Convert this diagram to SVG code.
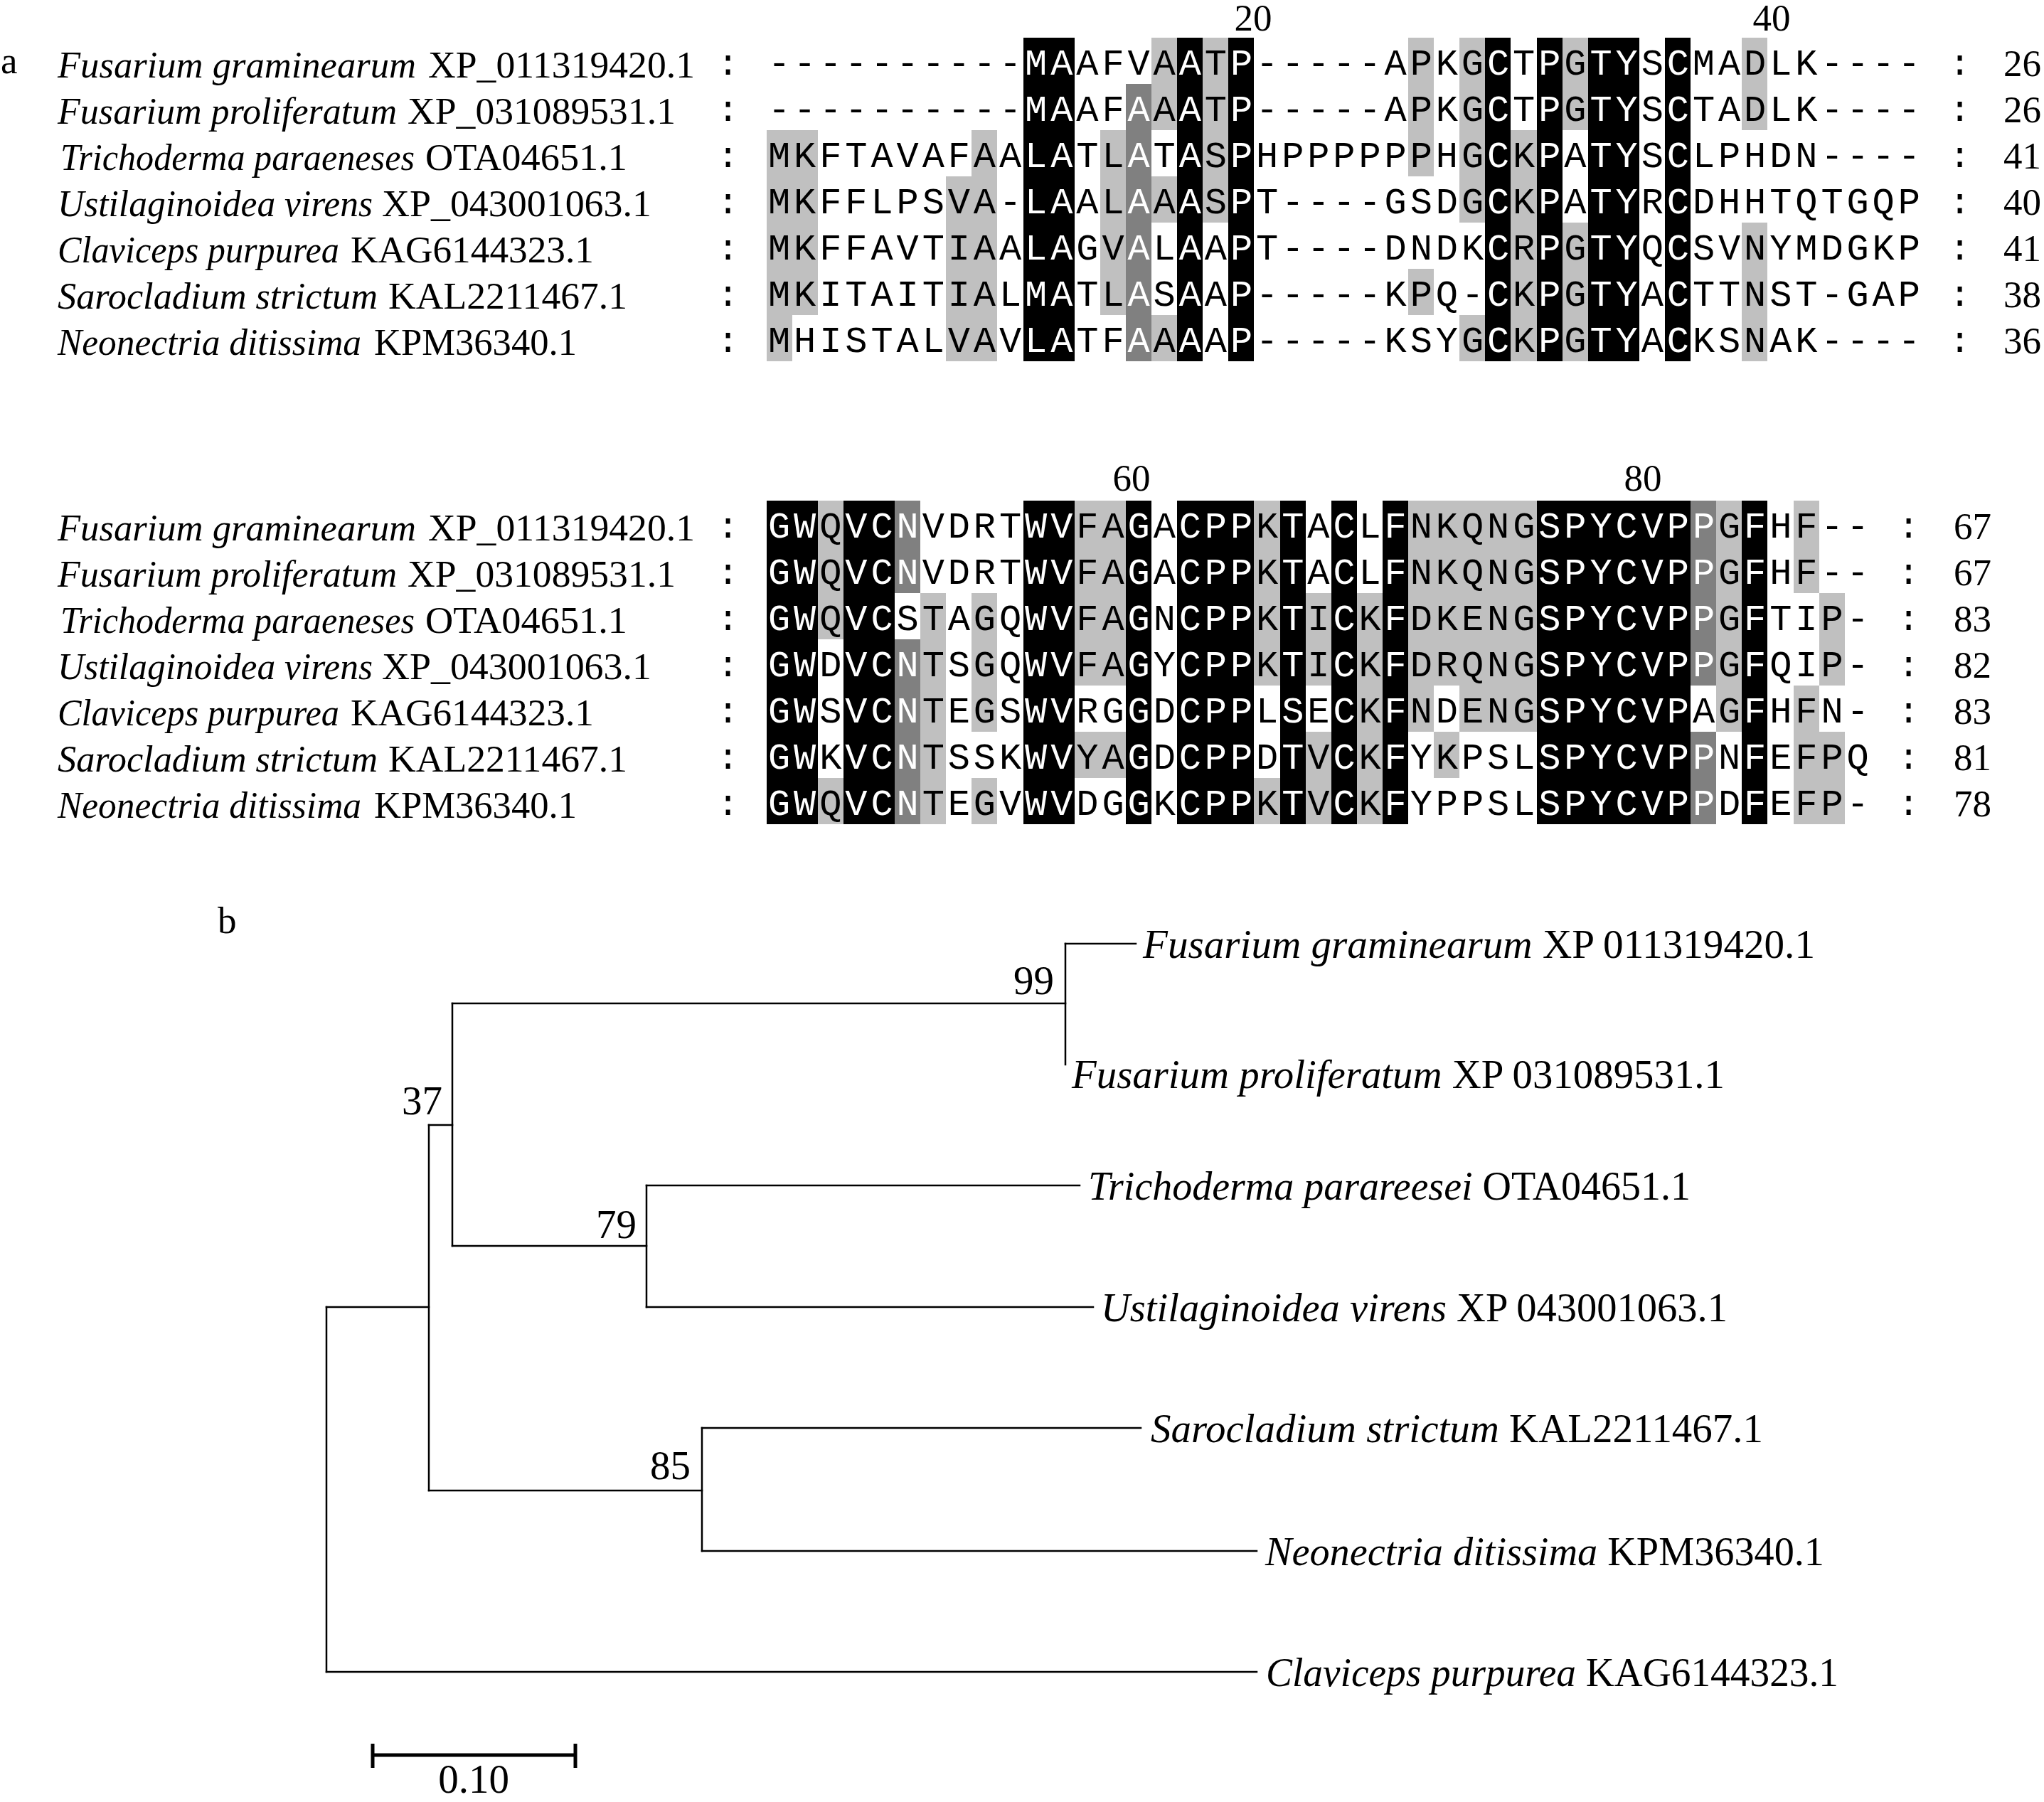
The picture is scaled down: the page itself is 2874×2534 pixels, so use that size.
<svg xmlns="http://www.w3.org/2000/svg" width="2874" height="2534" viewBox="0 0 2874 2534">
<style>
.seq{font-family:"Liberation Mono","DejaVu Sans Mono",monospace;font-size:52px;letter-spacing:4.9px;fill:#000}
.w{fill:#fff}
.lg{fill:#c0c0c0}
.dg{fill:#808080}
.bk{fill:#000}
.nm{font-family:"Liberation Serif","Times New Roman",serif;font-size:53px;fill:#000}
.it{font-style:italic}
.tl{font-family:"Liberation Serif","Times New Roman",serif;font-size:57px;fill:#000}
.br{stroke:#000;stroke-width:2.5;fill:none;stroke-linecap:square}
rect{shape-rendering:crispEdges}
</style>
<rect x="0" y="0" width="2874" height="2534" fill="#fff"/>

<!-- Panel a -->
<text class="nm" x="1" y="103">a</text>

<g id="block1-shading">
<g class="bk">
<rect x="1438.5" y="53" width="72.2" height="455"/>
<rect x="1655.1" y="53" width="36.1" height="455"/>
<rect x="1727.3" y="53" width="36.1" height="455"/>
<rect x="2088.3" y="53" width="36.1" height="455"/>
<rect x="2160.5" y="53" width="36.1" height="455"/>
<rect x="2232.7" y="53" width="72.2" height="455"/>
<rect x="2341.0" y="53" width="36.1" height="455"/>
</g>
<g class="dg">
<rect x="1582.9" y="118" width="36.1" height="390"/>
</g>
<g class="lg">
<rect x="1077.5" y="183" width="36.1" height="325"/>
<rect x="1113.6" y="183" width="36.1" height="260"/>
<rect x="1330.2" y="248" width="36.1" height="260"/>
<rect x="1366.3" y="183" width="36.1" height="325"/>
<rect x="1546.8" y="183" width="36.1" height="260"/>
<rect x="1619.0" y="53" width="36.1" height="130"/>
<rect x="1619.0" y="248" width="36.1" height="65"/>
<rect x="1619.0" y="443" width="36.1" height="65"/>
<rect x="1691.2" y="53" width="36.1" height="260"/>
<rect x="1980.0" y="53" width="36.1" height="195"/>
<rect x="1980.0" y="378" width="36.1" height="65"/>
<rect x="2052.2" y="53" width="36.1" height="260"/>
<rect x="2052.2" y="443" width="36.1" height="65"/>
<rect x="2124.4" y="183" width="36.1" height="325"/>
<rect x="2196.6" y="53" width="36.1" height="130"/>
<rect x="2196.6" y="313" width="36.1" height="195"/>
<rect x="2449.3" y="53" width="36.1" height="130"/>
<rect x="2449.3" y="313" width="36.1" height="195"/>
</g>
</g>

<g id="block2-shading">
<g class="bk">
<rect x="1077.5" y="704" width="72.2" height="455"/>
<rect x="1185.8" y="704" width="72.2" height="455"/>
<rect x="1438.5" y="704" width="72.2" height="455"/>
<rect x="1582.9" y="704" width="36.1" height="455"/>
<rect x="1655.1" y="704" width="108.3" height="455"/>
<rect x="1799.5" y="704" width="36.1" height="455"/>
<rect x="1871.7" y="704" width="36.1" height="455"/>
<rect x="1943.9" y="704" width="36.1" height="455"/>
<rect x="2160.5" y="704" width="216.6" height="455"/>
<rect x="2449.3" y="704" width="36.1" height="455"/>
</g>
<g class="dg">
<rect x="1258.0" y="704" width="36.1" height="130"/>
<rect x="1258.0" y="899" width="36.1" height="260"/>
<rect x="2377.1" y="704" width="36.1" height="260"/>
<rect x="2377.1" y="1029" width="36.1" height="130"/>
</g>
<g class="lg">
<rect x="1149.7" y="704" width="36.1" height="195"/>
<rect x="1149.7" y="1094" width="36.1" height="65"/>
<rect x="1294.1" y="834" width="36.1" height="325"/>
<rect x="1366.3" y="834" width="36.1" height="195"/>
<rect x="1366.3" y="1094" width="36.1" height="65"/>
<rect x="1510.7" y="704" width="72.2" height="260"/>
<rect x="1510.7" y="1029" width="72.2" height="65"/>
<rect x="1763.4" y="704" width="36.1" height="260"/>
<rect x="1763.4" y="1094" width="36.1" height="65"/>
<rect x="1835.6" y="834" width="36.1" height="130"/>
<rect x="1835.6" y="1029" width="36.1" height="130"/>
<rect x="1907.8" y="834" width="36.1" height="325"/>
<rect x="1980.0" y="704" width="36.1" height="325"/>
<rect x="2016.1" y="704" width="36.1" height="260"/>
<rect x="2016.1" y="1029" width="36.1" height="65"/>
<rect x="2052.2" y="704" width="108.3" height="325"/>
<rect x="2413.2" y="704" width="36.1" height="325"/>
<rect x="2521.5" y="704" width="36.1" height="130"/>
<rect x="2521.5" y="964" width="36.1" height="195"/>
<rect x="2557.6" y="834" width="36.1" height="130"/>
<rect x="2557.6" y="1029" width="36.1" height="130"/>
</g>
</g>

<g id="block1-positions">
<text class="nm" x="1762" y="43" text-anchor="middle" font-size="48">20</text>
<text class="nm" x="2491" y="43" text-anchor="middle" font-size="48">40</text>
</g>
<g id="block2-positions">
<text class="nm" x="1591" y="690" text-anchor="middle" font-size="52">60</text>
<text class="nm" x="2310" y="690" text-anchor="middle" font-size="52">80</text>
</g>

<g id="block1-names">
<text class="nm it" x="81" y="109" textLength="504" lengthAdjust="spacingAndGlyphs">Fusarium graminearum</text><text class="nm" x="602" y="109" textLength="375" lengthAdjust="spacingAndGlyphs">XP_011319420.1</text>
<text class="nm it" x="81" y="174" textLength="477" lengthAdjust="spacingAndGlyphs">Fusarium proliferatum</text><text class="nm" x="573" y="174" textLength="377" lengthAdjust="spacingAndGlyphs">XP_031089531.1</text>
<text class="nm it" x="85" y="239" textLength="498" lengthAdjust="spacingAndGlyphs">Trichoderma paraeneses</text><text class="nm" x="598" y="239" textLength="284" lengthAdjust="spacingAndGlyphs">OTA04651.1</text>
<text class="nm it" x="81" y="304" textLength="443" lengthAdjust="spacingAndGlyphs">Ustilaginoidea virens</text><text class="nm" x="537" y="304" textLength="379" lengthAdjust="spacingAndGlyphs">XP_043001063.1</text>
<text class="nm it" x="81" y="369" textLength="396" lengthAdjust="spacingAndGlyphs">Claviceps purpurea</text><text class="nm" x="493" y="369" textLength="342" lengthAdjust="spacingAndGlyphs">KAG6144323.1</text>
<text class="nm it" x="81" y="434" textLength="450" lengthAdjust="spacingAndGlyphs">Sarocladium strictum</text><text class="nm" x="546" y="434" textLength="336" lengthAdjust="spacingAndGlyphs">KAL2211467.1</text>
<text class="nm it" x="81" y="499" textLength="427" lengthAdjust="spacingAndGlyphs">Neonectria ditissima</text><text class="nm" x="526" y="499" textLength="285" lengthAdjust="spacingAndGlyphs">KPM36340.1</text>
</g>

<g id="block1-seqs">
<text class="seq" x="1008" y="105">:</text><text class="seq" x="1008" y="170">:</text><text class="seq" x="1008" y="235">:</text><text class="seq" x="1008" y="300">:</text><text class="seq" x="1008" y="365">:</text><text class="seq" x="1008" y="430">:</text><text class="seq" x="1008" y="495">:</text>
<text class="seq" x="1080" y="105">----------<tspan class="w">MA</tspan>AFVA<tspan class="w">A</tspan>T<tspan class="w">P</tspan>-----APKG<tspan class="w">C</tspan>T<tspan class="w">P</tspan>G<tspan class="w">TY</tspan>S<tspan class="w">C</tspan>MADLK----</text>
<text class="seq" x="1080" y="170">----------<tspan class="w">MA</tspan>AF<tspan class="w">A</tspan>A<tspan class="w">A</tspan>T<tspan class="w">P</tspan>-----APKG<tspan class="w">C</tspan>T<tspan class="w">P</tspan>G<tspan class="w">TY</tspan>S<tspan class="w">C</tspan>TADLK----</text>
<text class="seq" x="1080" y="235">MKFTAVAFAA<tspan class="w">LA</tspan>TL<tspan class="w">A</tspan>T<tspan class="w">A</tspan>S<tspan class="w">P</tspan>HPPPPPPHG<tspan class="w">C</tspan>K<tspan class="w">P</tspan>A<tspan class="w">TY</tspan>S<tspan class="w">C</tspan>LPHDN----</text>
<text class="seq" x="1080" y="300">MKFFLPSVA-<tspan class="w">LA</tspan>AL<tspan class="w">A</tspan>A<tspan class="w">A</tspan>S<tspan class="w">P</tspan>T----GSDG<tspan class="w">C</tspan>K<tspan class="w">P</tspan>A<tspan class="w">TY</tspan>R<tspan class="w">C</tspan>DHHTQTGQP</text>
<text class="seq" x="1080" y="365">MKFFAVTIAA<tspan class="w">LA</tspan>GV<tspan class="w">A</tspan>L<tspan class="w">A</tspan>A<tspan class="w">P</tspan>T----DNDK<tspan class="w">C</tspan>R<tspan class="w">P</tspan>G<tspan class="w">TY</tspan>Q<tspan class="w">C</tspan>SVNYMDGKP</text>
<text class="seq" x="1080" y="430">MKITAITIAL<tspan class="w">MA</tspan>TL<tspan class="w">A</tspan>S<tspan class="w">A</tspan>A<tspan class="w">P</tspan>-----KPQ-<tspan class="w">C</tspan>K<tspan class="w">P</tspan>G<tspan class="w">TY</tspan>A<tspan class="w">C</tspan>TTNST-GAP</text>
<text class="seq" x="1080" y="495">MHISTALVAV<tspan class="w">LA</tspan>TF<tspan class="w">A</tspan>A<tspan class="w">A</tspan>A<tspan class="w">P</tspan>-----KSYG<tspan class="w">C</tspan>K<tspan class="w">P</tspan>G<tspan class="w">TY</tspan>A<tspan class="w">C</tspan>KSNAK----</text>
<text class="seq" x="2740" y="105">:</text><text class="seq" x="2740" y="170">:</text><text class="seq" x="2740" y="235">:</text><text class="seq" x="2740" y="300">:</text><text class="seq" x="2740" y="365">:</text><text class="seq" x="2740" y="430">:</text><text class="seq" x="2740" y="495">:</text>
<text class="nm" x="2817" y="107">26</text>
<text class="nm" x="2817" y="172">26</text>
<text class="nm" x="2817" y="237">41</text>
<text class="nm" x="2817" y="302">40</text>
<text class="nm" x="2817" y="367">41</text>
<text class="nm" x="2817" y="432">38</text>
<text class="nm" x="2817" y="497">36</text>
</g>

<g id="block2-names">
<text class="nm it" x="81" y="760" textLength="504" lengthAdjust="spacingAndGlyphs">Fusarium graminearum</text><text class="nm" x="602" y="760" textLength="375" lengthAdjust="spacingAndGlyphs">XP_011319420.1</text>
<text class="nm it" x="81" y="825" textLength="477" lengthAdjust="spacingAndGlyphs">Fusarium proliferatum</text><text class="nm" x="573" y="825" textLength="377" lengthAdjust="spacingAndGlyphs">XP_031089531.1</text>
<text class="nm it" x="85" y="890" textLength="498" lengthAdjust="spacingAndGlyphs">Trichoderma paraeneses</text><text class="nm" x="598" y="890" textLength="284" lengthAdjust="spacingAndGlyphs">OTA04651.1</text>
<text class="nm it" x="81" y="955" textLength="443" lengthAdjust="spacingAndGlyphs">Ustilaginoidea virens</text><text class="nm" x="537" y="955" textLength="379" lengthAdjust="spacingAndGlyphs">XP_043001063.1</text>
<text class="nm it" x="81" y="1020" textLength="396" lengthAdjust="spacingAndGlyphs">Claviceps purpurea</text><text class="nm" x="493" y="1020" textLength="342" lengthAdjust="spacingAndGlyphs">KAG6144323.1</text>
<text class="nm it" x="81" y="1085" textLength="450" lengthAdjust="spacingAndGlyphs">Sarocladium strictum</text><text class="nm" x="546" y="1085" textLength="336" lengthAdjust="spacingAndGlyphs">KAL2211467.1</text>
<text class="nm it" x="81" y="1150" textLength="427" lengthAdjust="spacingAndGlyphs">Neonectria ditissima</text><text class="nm" x="526" y="1150" textLength="285" lengthAdjust="spacingAndGlyphs">KPM36340.1</text>
</g>

<g id="block2-seqs">
<text class="seq" x="1008" y="756">:</text><text class="seq" x="1008" y="821">:</text><text class="seq" x="1008" y="886">:</text><text class="seq" x="1008" y="951">:</text><text class="seq" x="1008" y="1016">:</text><text class="seq" x="1008" y="1081">:</text><text class="seq" x="1008" y="1146">:</text>
<text class="seq" x="1080" y="756"><tspan class="w">GW</tspan>Q<tspan class="w">VCN</tspan>VDRT<tspan class="w">WV</tspan>FA<tspan class="w">G</tspan>A<tspan class="w">CPP</tspan>K<tspan class="w">T</tspan>A<tspan class="w">C</tspan>L<tspan class="w">F</tspan>NKQNG<tspan class="w">SPYCVPP</tspan>G<tspan class="w">F</tspan>HF--</text>
<text class="seq" x="1080" y="821"><tspan class="w">GW</tspan>Q<tspan class="w">VCN</tspan>VDRT<tspan class="w">WV</tspan>FA<tspan class="w">G</tspan>A<tspan class="w">CPP</tspan>K<tspan class="w">T</tspan>A<tspan class="w">C</tspan>L<tspan class="w">F</tspan>NKQNG<tspan class="w">SPYCVPP</tspan>G<tspan class="w">F</tspan>HF--</text>
<text class="seq" x="1080" y="886"><tspan class="w">GW</tspan>Q<tspan class="w">VC</tspan>STAGQ<tspan class="w">WV</tspan>FA<tspan class="w">G</tspan>N<tspan class="w">CPP</tspan>K<tspan class="w">T</tspan>I<tspan class="w">C</tspan>K<tspan class="w">F</tspan>DKENG<tspan class="w">SPYCVPP</tspan>G<tspan class="w">F</tspan>TIP-</text>
<text class="seq" x="1080" y="951"><tspan class="w">GW</tspan>D<tspan class="w">VCN</tspan>TSGQ<tspan class="w">WV</tspan>FA<tspan class="w">G</tspan>Y<tspan class="w">CPP</tspan>K<tspan class="w">T</tspan>I<tspan class="w">C</tspan>K<tspan class="w">F</tspan>DRQNG<tspan class="w">SPYCVPP</tspan>G<tspan class="w">F</tspan>QIP-</text>
<text class="seq" x="1080" y="1016"><tspan class="w">GW</tspan>S<tspan class="w">VCN</tspan>TEGS<tspan class="w">WV</tspan>RG<tspan class="w">G</tspan>D<tspan class="w">CPP</tspan>L<tspan class="w">S</tspan>E<tspan class="w">C</tspan>K<tspan class="w">F</tspan>NDENG<tspan class="w">SPYCVP</tspan>AG<tspan class="w">F</tspan>HFN-</text>
<text class="seq" x="1080" y="1081"><tspan class="w">GW</tspan>K<tspan class="w">VCN</tspan>TSSK<tspan class="w">WV</tspan>YA<tspan class="w">G</tspan>D<tspan class="w">CPP</tspan>D<tspan class="w">T</tspan>V<tspan class="w">C</tspan>K<tspan class="w">F</tspan>YKPSL<tspan class="w">SPYCVPP</tspan>N<tspan class="w">F</tspan>EFPQ</text>
<text class="seq" x="1080" y="1146"><tspan class="w">GW</tspan>Q<tspan class="w">VCN</tspan>TEGV<tspan class="w">WV</tspan>DG<tspan class="w">G</tspan>K<tspan class="w">CPP</tspan>K<tspan class="w">T</tspan>V<tspan class="w">C</tspan>K<tspan class="w">F</tspan>YPPSL<tspan class="w">SPYCVPP</tspan>D<tspan class="w">F</tspan>EFP-</text>
<text class="seq" x="2668" y="756">:</text><text class="seq" x="2668" y="821">:</text><text class="seq" x="2668" y="886">:</text><text class="seq" x="2668" y="951">:</text><text class="seq" x="2668" y="1016">:</text><text class="seq" x="2668" y="1081">:</text><text class="seq" x="2668" y="1146">:</text>
<text class="nm" x="2747" y="758">67</text>
<text class="nm" x="2747" y="823">67</text>
<text class="nm" x="2747" y="888">83</text>
<text class="nm" x="2747" y="953">82</text>
<text class="nm" x="2747" y="1018">83</text>
<text class="nm" x="2747" y="1083">81</text>
<text class="nm" x="2747" y="1148">78</text>
</g>

<!-- Panel b -->
<text class="nm" x="306" y="1312">b</text>

<g id="connectors">
<path class="br" d="M459 1838 V2351"/>
<path class="br" d="M459 1838 H603"/>
<path class="br" d="M603 1582 V2096"/>
<path class="br" d="M603 1582 H636"/>
<path class="br" d="M636 1411 V1752"/>
<path class="br" d="M636 1411 H1498"/>
<path class="br" d="M1498 1327 V1497"/>
<path class="br" d="M1498 1327 H1597"/>
<path class="br" d="M636 1752 H909"/>
<path class="br" d="M909 1667 V1838"/>
<path class="br" d="M909 1667 H1518"/>
<path class="br" d="M909 1838 H1537"/>
<path class="br" d="M603 2096 H987"/>
<path class="br" d="M987 2008 V2181"/>
<path class="br" d="M987 2008 H1604"/>
<path class="br" d="M987 2181 H1767"/>
<path class="br" d="M459 2351 H1767"/>
</g>

<g id="node-99"><text class="tl" x="1482" y="1398" text-anchor="end">99</text></g>
<g id="node-37"><text class="tl" x="622" y="1567" text-anchor="end">37</text></g>
<g id="node-79"><text class="tl" x="895" y="1741" text-anchor="end">79</text></g>
<g id="node-85"><text class="tl" x="971" y="2080" text-anchor="end">85</text></g>

<g id="leaf-fgram"><text class="tl" x="1607" y="1347" textLength="945" lengthAdjust="spacingAndGlyphs"><tspan class="it">Fusarium graminearum</tspan> XP 011319420.1</text></g>
<g id="leaf-fprol"><text class="tl" x="1507" y="1530" textLength="918" lengthAdjust="spacingAndGlyphs"><tspan class="it">Fusarium proliferatum</tspan> XP 031089531.1</text></g>
<g id="leaf-trich"><text class="tl" x="1530" y="1687" textLength="847" lengthAdjust="spacingAndGlyphs"><tspan class="it">Trichoderma parareesei</tspan> OTA04651.1</text></g>
<g id="leaf-ustil"><text class="tl" x="1548" y="1858" textLength="881" lengthAdjust="spacingAndGlyphs"><tspan class="it">Ustilaginoidea virens</tspan> XP 043001063.1</text></g>
<g id="leaf-saro"><text class="tl" x="1618" y="2028" textLength="861" lengthAdjust="spacingAndGlyphs"><tspan class="it">Sarocladium strictum</tspan> KAL2211467.1</text></g>
<g id="leaf-neon"><text class="tl" x="1779" y="2201" textLength="786" lengthAdjust="spacingAndGlyphs"><tspan class="it">Neonectria ditissima</tspan> KPM36340.1</text></g>
<g id="leaf-clav"><text class="tl" x="1780" y="2371" textLength="805" lengthAdjust="spacingAndGlyphs"><tspan class="it">Claviceps purpurea</tspan> KAG6144323.1</text></g>

<g id="scale-bar">
<path d="M524 2468 H809" stroke="#000" stroke-width="5" fill="none"/>
<path d="M524 2452 V2486 M809 2452 V2486" stroke="#000" stroke-width="5" fill="none"/>
<text class="tl" x="666" y="2521" text-anchor="middle" font-size="55">0.10</text>
</g>
</svg>
